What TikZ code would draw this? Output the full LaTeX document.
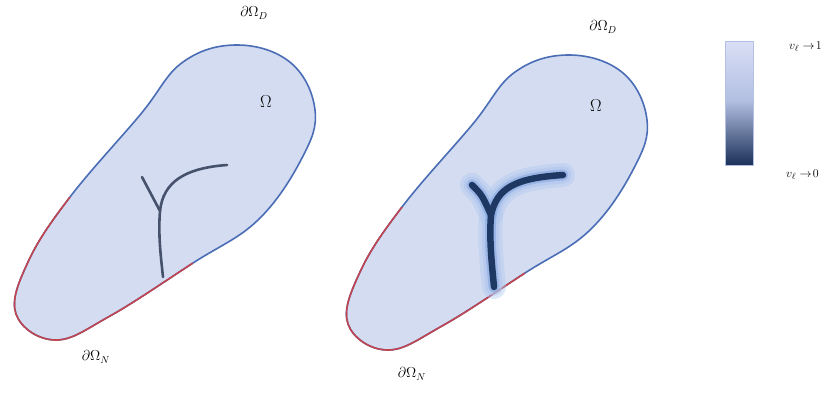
\documentclass[tikz,border=0pt]{standalone}
\usepackage{amsmath}
\usetikzlibrary{calc}
\definecolor{domfill}{HTML}{D3DCF1}
\definecolor{bblue}{HTML}{4A6DB6}
\definecolor{bred}{HTML}{C2444F}
\definecolor{crackA}{HTML}{46526C}
\definecolor{crackB}{HTML}{1F3763}
\definecolor{glowA}{HTML}{AFC6EE}
\definecolor{glowB}{HTML}{7FA3DF}
\definecolor{barTop}{HTML}{D9DFF5}
\definecolor{barMid}{HTML}{B3C0E3}
\definecolor{barBot}{HTML}{1B3058}
\tikzset{
  lbl/.style={inner sep=0pt, font=\fontsize{14}{16}\selectfont},
  omg/.style={inner sep=0pt, font=\fontsize{16}{18}\selectfont},
  barlbl/.style={inner sep=0pt, anchor=west, font=\fontsize{13}{15}\selectfont},
  boundary/.style={line width=1.6pt},
}
\newcommand{\domainpath}{plot[smooth cycle, tension=0.65] coordinates {
  (70,197) (140,115) (183,62) (238,45) (291,63) (315,110) (302,158)
  (258,220) (193,263) (110,316) (55,340) (16,314) (28,262)}}
\newcommand{\domain}{%
  \fill[domfill] \domainpath;
  \draw[boundary, bblue] \domainpath;
  \begin{scope}
    \clip (70,197) -- (193,263) -- (205,400) -- (-10,400) -- (-10,197) -- cycle;
    \draw[boundary, bred] \domainpath;
  \end{scope}}
\begin{document}
\begin{tikzpicture}[x=1pt,y=-1pt]
\useasboundingbox (0,0) rectangle (840,392);
\fill[white] (0,0) rectangle (840,392);

% left domain
\domain
\coordinate (lj) at (160,211);
\coordinate (ll) at (142,177);
\coordinate (lr) at (227,165);
\coordinate (lb) at (163,277);
\draw[crackA, line width=2.6pt, line cap=round, line join=round]
  (ll) -- (lj) .. controls (158,235) and (161,258) .. (lb);
\draw[crackA, line width=2.6pt, line cap=round]
  (lj) .. controls (163,182) and (185,168) .. (lr);
\node[omg] (om1) at (266,102) {$\Omega$};
\node[lbl] (d1) at (254,13) {$\partial\Omega_{D}$};
\node[lbl] (n1) at (96,357) {$\partial\Omega_{N}$};

% right domain
\begin{scope}[shift={(332,10)}]
\domain
\end{scope}
\coordinate (rj) at (491,215);
\coordinate (rl) at (472,185);
\coordinate (rr) at (563,175);
\coordinate (rb) at (494,287);
\foreach \w/\c/\o in {24/glowA/0.4, 17/glowA/0.55, 11/glowB/0.5}{
  \draw[\c, opacity=\o, line width=\w pt, line cap=round, line join=round]
    (rl) .. controls (482,195) .. (rj) .. controls (489,240) and (492,265) .. (rb);
  \draw[\c, opacity=\o, line width=\w pt, line cap=round]
    (rj) .. controls (497,188) and (515,178) .. (rr);
}
\draw[crackB, line width=6.5pt, line cap=round, line join=round]
  (rl) .. controls (482,195) .. (rj) .. controls (489,240) and (492,265) .. (rb);
\draw[crackB, line width=6.5pt, line cap=round]
  (rj) .. controls (497,188) and (515,178) .. (rr);
\node[omg] (om2) at (596,106) {$\Omega$};
\node[lbl] (d2) at (603,27) {$\partial\Omega_{D}$};
\node[lbl] (n2) at (412,374) {$\partial\Omega_{N}$};

% colour bar
\shade[top color=barTop, bottom color=barMid, draw=barMid, line width=0.6pt]
  (725,41) rectangle (753,100);
\shade[top color=barMid, bottom color=barBot]
  (725,100) rectangle (753,165);
\draw[barMid, line width=0.6pt] (725,41) rectangle (753,165);
\node[barlbl] (v1) at (789,47) {$v_\ell \rightarrow\! 1$};
\node[barlbl] (v0) at (786,175) {$v_\ell \rightarrow\! 0$};
\end{tikzpicture}
\end{document}
